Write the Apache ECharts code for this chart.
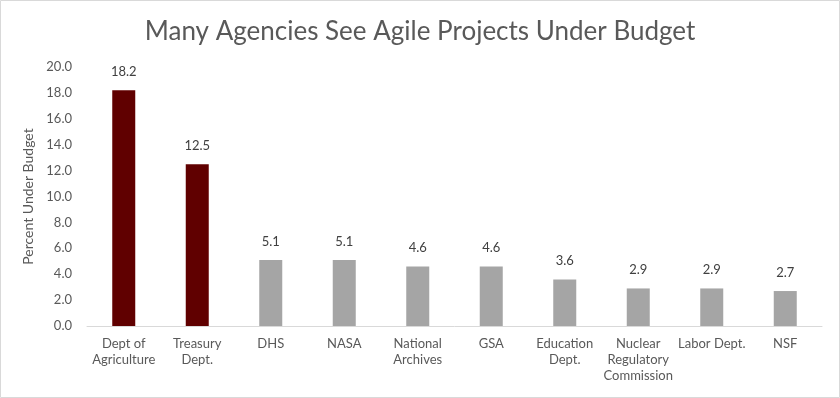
<!DOCTYPE html>
<html><head><meta charset="utf-8">
<script src="https://cdn.jsdelivr.net/npm/echarts@6/dist/echarts.min.js"></script>
<style>html,body{margin:0;padding:0;background:#fff}#c{width:840px;height:398px}</style>
</head><body><div id="c"></div>
<script>
const categories = ["Dept of\nAgriculture","Treasury\nDept.","DHS","NASA","National\nArchives","GSA","Education\nDept.","Nuclear\nRegulatory\nCommission","Labor Dept.","NSF"];
const values = [18.2,12.5,5.1,5.1,4.6,4.6,3.6,2.9,2.9,2.7];
const highlightCount = 2;
const FONT = "Lato";
const chart = echarts.init(document.getElementById('c'));
chart.setOption({
  animation:false,
  textStyle:{fontFamily:FONT},
  title:{text:"Many Agencies See Agile Projects Under Budget",left:'center',top:14,
    textStyle:{fontFamily:FONT,fontSize:26,fontWeight:'normal',color:'#595959'}},
  graphic:[{type:'rect',shape:{x:0.5,y:0.5,width:839,height:397},style:{fill:'none',stroke:'#d9d9d9',lineWidth:1},silent:true}],
  grid:{left:87,right:18,top:67,bottom:72},
  xAxis:{type:'category',data:categories,
    axisLine:{lineStyle:{color:'#d9d9d9'}},axisTick:{show:false},
    axisLabel:{interval:0,color:'#595959',fontSize:13,lineHeight:16,margin:10,fontFamily:FONT}},
  yAxis:{type:'value',min:0,max:20,interval:2,name:'Percent Under Budget',nameLocation:'middle',nameGap:48,
    nameTextStyle:{color:'#595959',fontSize:14,fontFamily:FONT},
    axisLine:{show:false},axisTick:{show:false},splitLine:{show:false},
    axisLabel:{color:'#595959',fontSize:13,margin:15,formatter:v=>v.toFixed(1),fontFamily:FONT}},
  series:[{type:'bar',barWidth:23,
    data:values.map((v,i)=>({value:v,itemStyle:{color:i<highlightCount?'#600000':'#a5a5a5'}})),
    label:{show:true,position:'top',distance:12,color:'#404040',fontSize:13,fontFamily:FONT,formatter:p=>p.value.toFixed(1)}}]
});
</script></body></html>
